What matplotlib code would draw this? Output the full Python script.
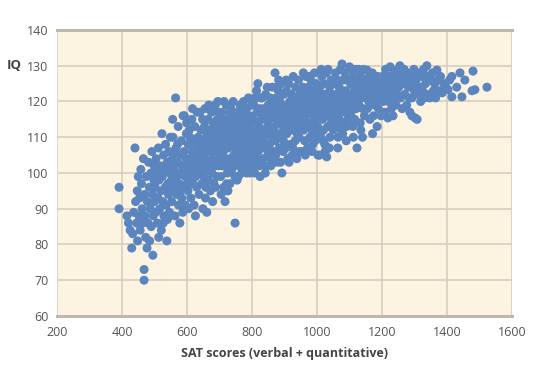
import matplotlib.pyplot as plt
from matplotlib.transforms import blended_transform_factory

# SAT (verbal + quantitative) vs IQ, grouped by SAT band
band_380_450 = [(391, 96), (391, 90), (415, 88), (420, 86), (425, 84), (430, 79), (433, 83),
                (436, 89), (440, 107), (442, 92), (445, 86), (447, 95), (448, 81), (450, 99)]
band_450_500 = [(452, 88), (454, 93), (456, 84), (458, 101), (460, 97), (462, 90), (464, 86),
                (466, 104), (468, 73), (468, 70), (470, 94), (471, 88), (473, 82), (475, 99),
                (477, 79), (478, 92), (480, 86), (482, 103), (484, 96), (485, 81), (487, 90),
                (489, 100), (490, 85), (492, 106), (494, 94), (495, 77), (496, 88), (498, 98),
                (499, 102), (500, 92)]
band_500_550 = [(502, 96), (504, 89), (505, 104), (507, 100), (509, 86), (511, 93), (512, 107),
                (514, 98), (516, 90), (518, 102), (520, 95), (521, 84), (523, 111), (524, 99),
                (526, 92), (528, 105), (529, 88), (531, 101), (533, 96), (534, 108), (536, 91),
                (538, 81), (539, 103), (541, 97), (543, 94), (544, 106), (546, 89), (547, 100),
                (549, 110), (550, 95), (513, 82), (527, 86), (540, 87), (548, 102)]
band_550_600 = [(552, 98), (553, 92), (555, 104), (557, 110), (559, 96), (561, 101), (563, 88),
                (565, 121), (566, 107), (568, 94), (569, 99), (571, 103), (573, 113), (574, 91),
                (576, 97), (578, 86), (579, 105), (581, 100), (583, 109), (584, 93), (586, 102),
                (588, 116), (589, 96), (591, 106), (592, 116), (594, 99), (595, 91), (597, 104),
                (598, 111), (600, 97), (556, 115), (562, 106), (571, 108), (580, 95), (587, 89),
                (596, 101), (599, 114)]
band_600_650 = [(601, 102), (603, 95), (604, 108), (606, 99), (607, 112), (609, 110), (610, 104),
                (612, 93), (613, 100), (615, 115), (616, 106), (618, 97), (619, 109), (621, 102),
                (622, 91), (624, 113), (625, 105), (627, 99), (628, 108), (630, 96), (631, 117),
                (633, 103), (634, 110), (636, 100), (637, 94), (639, 107), (640, 117), (642, 101),
                (643, 112), (645, 97), (646, 105), (648, 115), (649, 90), (650, 103), (605, 90),
                (617, 118), (626, 88), (638, 104), (644, 109), (611, 97)]
band_650_700 = [(651, 108), (652, 99), (654, 113), (655, 118), (656, 104), (658, 96), (659, 110),
                (661, 89), (662, 106), (663, 101), (665, 115), (666, 98), (668, 108), (669, 103),
                (671, 112), (672, 95), (674, 106), (675, 117), (677, 100), (678, 110), (680, 104),
                (681, 114), (683, 97), (684, 108), (686, 102), (687, 119), (689, 111), (690, 105),
                (692, 99), (693, 115), (695, 120), (696, 107), (698, 102), (699, 112), (700, 109),
                (657, 93), (667, 119), (679, 92), (688, 96), (697, 117), (664, 111), (685, 113)]
band_700_750 = [(701, 104), (703, 113), (704, 99), (706, 108), (707, 117), (709, 102), (710, 111),
                (712, 106), (713, 96), (715, 115), (717, 92), (718, 109), (720, 104), (721, 119),
                (723, 112), (724, 100), (726, 95), (727, 107), (729, 115), (730, 110), (732, 97),
                (733, 104), (735, 118), (736, 112), (738, 101), (739, 108), (741, 114), (742, 120),
                (744, 105), (745, 110), (747, 99), (748, 86), (749, 116), (750, 107), (705, 94),
                (714, 120), (722, 97), (731, 117), (740, 103), (746, 113), (719, 114), (728, 102)]
band_750_800 = [(752, 112), (753, 104), (754, 98), (756, 117), (757, 108), (759, 114), (760, 102),
                (762, 110), (763, 119), (765, 106), (766, 113), (768, 100), (769, 116), (771, 109),
                (772, 104), (774, 120), (775, 112), (777, 107), (778, 115), (780, 101), (781, 110),
                (783, 118), (784, 100), (786, 113), (787, 106), (789, 121), (790, 111), (792, 103),
                (793, 116), (795, 108), (796, 114), (798, 104), (799, 119), (800, 110), (758, 99),
                (764, 111), (776, 102), (785, 116), (794, 100), (797, 112), (770, 118), (782, 105)]
band_800_850 = [(801, 106), (803, 115), (804, 102), (806, 119), (807, 111), (809, 108), (810, 121),
                (812, 104), (813, 114), (815, 110), (816, 117), (818, 125), (819, 106), (821, 113),
                (822, 102), (824, 118), (825, 99), (827, 111), (828, 115), (830, 107), (831, 121),
                (833, 112), (834, 104), (836, 118), (837, 109), (839, 115), (840, 102), (842, 122),
                (843, 111), (845, 107), (846, 116), (848, 113), (849, 105), (850, 119), (808, 100),
                (814, 123), (823, 108), (832, 117), (841, 100), (847, 124), (826, 121), (838, 107)]
band_850_900 = [(851, 111), (853, 115), (854, 108), (856, 121), (857, 104), (859, 117), (860, 112),
                (862, 110), (863, 124), (865, 116), (866, 106), (868, 119), (869, 113), (871, 128),
                (872, 109), (874, 121), (875, 115), (877, 103), (878, 118), (880, 111), (881, 123),
                (883, 114), (884, 107), (886, 120), (887, 116), (889, 110), (890, 125), (892, 100),
                (893, 118), (895, 113), (896, 106), (898, 122), (899, 116), (900, 111), (858, 102),
                (864, 120), (873, 105), (882, 126), (888, 103), (897, 109), (876, 124), (855, 117)]
band_900_950 = [(901, 118), (903, 114), (904, 107), (906, 123), (907, 111), (909, 119), (910, 104),
                (912, 116), (913, 125), (915, 112), (916, 120), (918, 108), (919, 117), (921, 122),
                (922, 114), (924, 105), (925, 119), (927, 127), (928, 112), (930, 121), (931, 116),
                (933, 109), (934, 124), (936, 118), (937, 113), (938, 104), (940, 120), (942, 115),
                (943, 126), (945, 110), (946, 122), (948, 117), (949, 113), (950, 119), (905, 126),
                (914, 103), (926, 107), (939, 111), (947, 106), (920, 112)]
band_950_1000 = [(951, 115), (953, 106), (954, 121), (956, 117), (957, 124), (959, 112), (960, 119),
                 (962, 109), (963, 122), (965, 116), (966, 127), (968, 113), (969, 120), (971, 107),
                 (972, 118), (974, 124), (975, 114), (977, 121), (978, 110), (980, 117), (981, 126),
                 (983, 119), (984, 112), (986, 123), (987, 108), (989, 116), (990, 121), (992, 128),
                 (993, 114), (995, 119), (996, 111), (998, 125), (999, 117), (1000, 122), (958, 128),
                 (964, 105), (976, 127), (985, 106), (994, 109), (961, 113)]
band_1000_1050 = [(1002, 113), (1003, 105), (1005, 120), (1006, 116), (1008, 105), (1009, 124),
                  (1011, 118), (1012, 110), (1014, 122), (1015, 127), (1017, 115), (1018, 120),
                  (1020, 112), (1021, 125), (1023, 118), (1024, 108), (1026, 122), (1027, 116),
                  (1029, 128), (1030, 104.5), (1032, 119), (1033, 113), (1034, 129), (1036, 121),
                  (1037, 117), (1039, 124), (1040, 110), (1042, 120), (1043, 126), (1045, 115),
                  (1046, 122), (1048, 118), (1050, 112), (1013, 129), (1025, 106), (1038, 107),
                  (1044, 114), (1019, 109)]
band_1050_1100 = [(1051, 121), (1053, 125), (1054, 116), (1056, 119), (1057, 128), (1059, 113),
                  (1060, 122), (1062, 118), (1063, 126), (1065, 110), (1066, 120), (1068, 124),
                  (1069, 115), (1071, 121), (1072, 129), (1074, 117), (1075, 112), (1077, 130.5),
                  (1078, 123), (1080, 119), (1081, 126), (1083, 114), (1084, 121), (1086, 128),
                  (1087, 117), (1089, 123), (1090, 109), (1092, 120), (1093, 126), (1095, 115),
                  (1096, 122), (1098, 118), (1100, 129.7), (1064, 107), (1079, 111), (1091, 113)]
band_1100_1150 = [(1102, 121), (1103, 125), (1105, 117), (1107, 129), (1108, 122), (1110, 113),
                  (1111, 127), (1113, 119), (1115, 124), (1116, 115), (1118, 129), (1120, 121),
                  (1121, 118), (1123, 107), (1124, 126), (1126, 123), (1128, 129), (1129, 119),
                  (1131, 124), (1133, 114), (1134, 127), (1136, 121), (1138, 125), (1140, 110),
                  (1141, 118), (1143, 129), (1145, 123), (1146, 116), (1148, 126), (1150, 121),
                  (1112, 110), (1135, 112)]
band_1150_1200 = [(1152, 125), (1154, 128.8), (1155, 118), (1157, 123), (1159, 120), (1161, 127),
                  (1163, 115), (1165, 122), (1166, 125), (1168, 119), (1170, 128), (1172, 121),
                  (1174, 116), (1176, 124), (1178, 126), (1180, 119), (1182, 122), (1185, 113),
                  (1187, 127), (1189, 118), (1191, 124), (1193, 121), (1195, 126), (1197, 116),
                  (1199, 123), (1171, 111)]
band_1200_1250 = [(1202, 127), (1204, 120), (1206, 124), (1209, 117), (1211, 129), (1213, 122),
                  (1215, 125), (1218, 115.4), (1220, 120), (1222, 127), (1225, 129.7), (1227, 123),
                  (1229, 118), (1231, 125), (1234, 116), (1236, 121), (1238, 128), (1240, 124),
                  (1243, 119), (1245, 126), (1247, 122), (1249, 129)]
band_1250_1300 = [(1252, 124), (1255, 130), (1257, 121), (1260, 127), (1262, 118), (1265, 125),
                  (1268, 129), (1270, 122), (1273, 126), (1276, 119), (1278, 128), (1281, 124),
                  (1284, 121), (1286, 117), (1289, 127), (1292, 121), (1292, 116), (1295, 125),
                  (1298, 129), (1300, 123)]
band_1300_1350 = [(1302, 115.4), (1305, 126), (1308, 115), (1310, 122), (1313, 128), (1316, 124),
                  (1319, 120), (1322, 127), (1325, 123), (1328, 129), (1331, 121), (1334, 125),
                  (1338, 130), (1341, 127), (1344, 122), (1347, 121), (1350, 126)]
band_1350_up = [(1355, 128), (1358, 123), (1362, 125), (1365, 121), (1369, 128.8), (1372, 126),
                (1376, 123), (1380, 127), (1385, 122.4), (1390, 125), (1396, 124), (1403, 123.3),
                (1408, 126), (1415, 127), (1415, 121.3), (1430, 124), (1440, 128), (1446, 121.3),
                (1455, 126), (1477, 123), (1480, 128.5), (1486, 123.3), (1523, 124)]

bands = [band_380_450, band_450_500, band_500_550, band_550_600, band_600_650, band_650_700,
         band_700_750, band_750_800, band_800_850, band_850_900, band_900_950, band_950_1000,
         band_1000_1050, band_1050_1100, band_1100_1150, band_1150_1200, band_1200_1250,
         band_1250_1300, band_1300_1350, band_1350_up]

x_ticks = [200, 400, 600, 800, 1000, 1200, 1400, 1600]
y_ticks = [60, 70, 80, 90, 100, 110, 120, 130, 140]

sat = [p[0] for b in bands for p in b]
iq = [p[1] for b in bands for p in b]

plt.rcParams['font.family'] = ['Open Sans', 'DejaVu Sans']

fig = plt.figure(figsize=(5.35, 3.82), dpi=100)
ax = fig.add_axes([0.1065, 0.1728, 0.8505, 0.7487])
ax.set_facecolor('#fcf3e1')

ax.scatter(sat, iq, s=42, color='#5b85bf', edgecolors='none', zorder=3)

ax.set_xlim(200, 1600)
ax.set_ylim(60, 140)
ax.set_xticks(x_ticks)
ax.set_yticks(y_ticks)
ax.grid(True, color='#d6cfc2', linewidth=1.2, zorder=0)
ax.set_axisbelow(True)

for side in ['left', 'right']:
    ax.spines[side].set_visible(False)
for side in ['top', 'bottom']:
    ax.spines[side].set_color('#bdb8b0')
    ax.spines[side].set_linewidth(2.2)

ax.tick_params(length=0, labelsize=9, labelcolor='#555555')
ax.tick_params(axis='x', pad=7)
ax.tick_params(axis='y', pad=6)

ax.set_xlabel('SAT scores (verbal + quantitative)', fontsize=9, fontweight='bold',
              color='#444444', labelpad=6)
trans = blended_transform_factory(ax.transAxes, ax.transData)
ax.text(-0.094, 130, 'IQ', transform=trans, ha='center', va='center', fontsize=9.5,
        fontweight='bold', color='#444444')

fig.savefig('out.png', dpi=100)
